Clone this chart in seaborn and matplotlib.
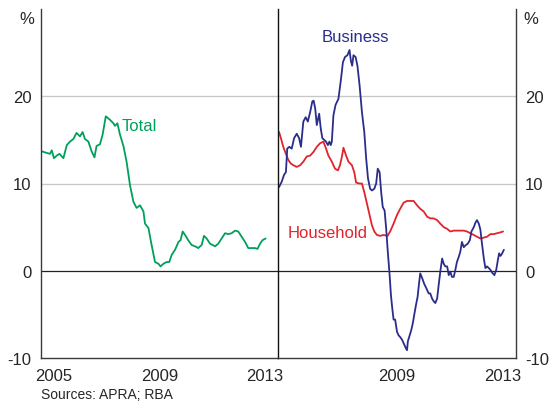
import pandas as pd
import matplotlib.pyplot as plt
import seaborn as sns

# data (decimal years)
total_year = [2005.02, 2005.22, 2005.34, 2005.41, 2005.49, 2005.60, 2005.70, 2005.85, 2005.98, 2006.10,
              2006.23, 2006.35, 2006.48, 2006.58, 2006.67, 2006.80, 2006.92, 2007.03, 2007.11, 2007.24,
              2007.34, 2007.46, 2007.62, 2007.75, 2007.81, 2007.90, 2008.00, 2008.13, 2008.25, 2008.38,
              2008.51, 2008.63, 2008.76, 2008.89, 2008.95, 2009.08, 2009.20, 2009.33, 2009.46, 2009.54,
              2009.65, 2009.77, 2009.87, 2009.96, 2010.09, 2010.22, 2010.30, 2010.38, 2010.47, 2010.59,
              2010.72, 2010.85, 2010.97, 2011.10, 2011.19, 2011.29, 2011.42, 2011.52, 2011.61, 2011.73,
              2011.86, 2011.99, 2012.11, 2012.24, 2012.37, 2012.49, 2012.62, 2012.75, 2012.87, 2013.00,
              2013.13, 2013.22, 2013.32, 2013.41, 2013.53]
total_val = [13.7, 13.5, 13.4, 13.8, 12.9, 13.2, 13.4, 12.9, 14.4, 14.8,
             15.1, 15.8, 15.4, 15.9, 15.1, 14.8, 13.7, 13.0, 14.3, 14.5,
             15.6, 17.7, 17.3, 16.9, 16.6, 16.9, 15.6, 14.3, 12.5, 9.8,
             7.9, 7.2, 7.5, 6.8, 5.4, 4.9, 2.95, 1.0, 0.8, 0.5,
             0.8, 1.0, 1.0, 1.8, 2.4, 3.3, 3.5, 4.5, 4.1, 3.5,
             2.95, 2.8, 2.6, 2.95, 4.0, 3.7, 3.1, 2.95, 2.8, 3.1,
             3.7, 4.3, 4.2, 4.3, 4.6, 4.5, 3.9, 3.3, 2.6, 2.6,
             2.6, 2.5, 3.1, 3.5, 3.7]

business_year = [2005.04, 2005.14, 2005.23, 2005.30, 2005.35, 2005.43, 2005.52, 2005.61, 2005.71, 2005.80,
                 2005.87, 2005.96, 2006.05, 2006.13, 2006.22, 2006.30, 2006.35, 2006.41, 2006.47, 2006.56,
                 2006.62, 2006.68, 2006.75, 2006.82, 2006.89, 2006.95, 2007.00, 2007.04, 2007.10, 2007.18,
                 2007.29, 2007.38, 2007.46, 2007.54, 2007.63, 2007.71, 2007.76, 2007.81, 2007.86, 2007.94,
                 2008.01, 2008.09, 2008.18, 2008.27, 2008.34, 2008.41, 2008.49, 2008.56, 2008.65, 2008.72,
                 2008.78, 2008.85, 2008.91, 2008.97, 2009.04, 2009.10, 2009.16, 2009.23, 2009.28, 2009.33,
                 2009.38, 2009.44, 2009.51, 2009.57, 2009.63, 2009.70, 2009.76, 2009.85, 2009.89, 2009.92,
                 2009.99, 2010.05, 2010.11, 2010.16, 2010.23, 2010.29, 2010.35, 2010.39, 2010.47, 2010.54,
                 2010.62, 2010.71, 2010.77, 2010.84, 2010.90, 2010.96, 2011.03, 2011.09, 2011.15, 2011.22,
                 2011.28, 2011.34, 2011.41, 2011.47, 2011.53, 2011.59, 2011.66, 2011.72, 2011.78, 2011.85,
                 2011.91, 2011.97, 2012.04, 2012.10, 2012.19, 2012.27, 2012.33, 2012.42, 2012.48, 2012.54,
                 2012.61, 2012.67, 2012.73, 2012.80, 2012.86, 2012.92, 2012.99, 2013.05, 2013.11, 2013.20,
                 2013.27, 2013.33, 2013.38, 2013.43, 2013.48, 2013.56]
business_val = [9.6, 10.2, 11.0, 11.3, 14.0, 14.2, 14.0, 15.2, 15.7, 15.2,
                14.2, 17.1, 17.6, 17.1, 18.2, 19.4, 19.5, 18.6, 16.7, 18.0,
                16.3, 15.2, 15.0, 14.8, 14.4, 14.8, 14.4, 14.8, 17.8, 19.0,
                19.7, 21.8, 23.9, 24.5, 24.7, 25.3, 24.1, 23.5, 24.7, 24.5,
                23.5, 21.3, 18.2, 15.9, 12.9, 10.6, 9.4, 9.2, 9.4, 10.0,
                11.7, 11.3, 9.0, 7.3, 6.9, 4.8, 2.2, -0.5, -2.8, -4.3,
                -5.6, -5.6, -7.0, -7.4, -7.6, -7.9, -8.3, -8.9, -9.1, -8.1,
                -7.4, -6.8, -6.0, -5.1, -3.9, -3.0, -1.3, -0.3, -0.9, -1.5,
                -2.0, -2.6, -2.6, -3.2, -3.5, -3.7, -3.2, -1.6, -0.1, 1.4,
                0.8, 0.5, 0.5, -0.5, -0.1, -0.7, -0.7, 0.1, 1.0, 1.6,
                2.2, 3.3, 2.7, 2.9, 3.1, 3.5, 4.5, 5.0, 5.5, 5.8,
                5.4, 4.7, 3.1, 1.4, 0.3, 0.5, 0.3, 0.1, -0.2, -0.5,
                0.1, 1.2, 2.0, 1.7, 1.9, 2.4]

household_year = [2005.04, 2005.11, 2005.20, 2005.30, 2005.39, 2005.48, 2005.58, 2005.71, 2005.84, 2005.96,
                  2006.09, 2006.22, 2006.34, 2006.47, 2006.59, 2006.72, 2006.82, 2006.91, 2007.04, 2007.16,
                  2007.27, 2007.35, 2007.43, 2007.48, 2007.58, 2007.67, 2007.80, 2007.89, 2007.96, 2008.09,
                  2008.18, 2008.27, 2008.37, 2008.47, 2008.56, 2008.65, 2008.75, 2008.87, 2009.00, 2009.15,
                  2009.25, 2009.38, 2009.51, 2009.63, 2009.76, 2009.89, 2010.01, 2010.14, 2010.27, 2010.39,
                  2010.52, 2010.65, 2010.77, 2010.90, 2011.03, 2011.15, 2011.28, 2011.41, 2011.53, 2011.66,
                  2011.78, 2011.91, 2012.04, 2012.16, 2012.29, 2012.42, 2012.54, 2012.67, 2012.80, 2012.92,
                  2013.05, 2013.18, 2013.30, 2013.43, 2013.53]
household_val = [15.9, 15.2, 14.2, 13.4, 12.7, 12.3, 12.1, 11.9, 12.1, 12.5,
                 13.1, 13.2, 13.6, 14.2, 14.6, 14.8, 14.0, 13.2, 12.5, 11.7,
                 11.5, 12.1, 13.2, 14.1, 13.2, 12.5, 12.1, 11.3, 10.1, 10.0,
                 10.0, 9.0, 7.7, 6.4, 5.2, 4.5, 4.1, 4.0, 4.1, 4.0,
                 4.5, 5.4, 6.4, 7.1, 7.8, 8.0, 8.0, 8.0, 7.5, 7.1,
                 6.8, 6.2, 6.0, 6.0, 5.8, 5.4, 5.0, 4.8, 4.5, 4.6,
                 4.6, 4.6, 4.6, 4.5, 4.3, 4.1, 3.9, 3.7, 3.8, 3.9,
                 4.2, 4.2, 4.3, 4.4, 4.5]

y_ticks = [-10, 0, 10, 20]
left_year_labels = ["2005", "2009", "2013"]
right_year_labels = ["2009", "2013"]

green = "#00a05a"
navy = "#2a2d8a"
red = "#e2232b"
axis_col = "#3a3a3a"

sns.set_style("white")
plt.rcParams["font.family"] = ["Liberation Sans", "DejaVu Sans"]
plt.rcParams["axes.unicode_minus"] = False

total = pd.DataFrame({"year": total_year, "val": total_val})
business = pd.DataFrame({"year": business_year, "val": business_val})
household = pd.DataFrame({"year": household_year, "val": household_val})

fig = plt.figure(figsize=(5.51, 4.02), dpi=100)
ax1 = fig.add_axes([41 / 551, 43 / 402, 237 / 551, 349 / 402])
ax2 = fig.add_axes([278 / 551, 43 / 402, 237.5 / 551, 349 / 402])

sns.lineplot(data=total, x="year", y="val", ax=ax1, color=green, lw=1.3)
sns.lineplot(data=household, x="year", y="val", ax=ax2, color=red, lw=1.3)
sns.lineplot(data=business, x="year", y="val", ax=ax2, color=navy, lw=1.3)

for ax, labs, pos in ((ax1, left_year_labels, [2005.5, 2009.5, 2013.5]),
                      (ax2, right_year_labels, [2009.5, 2013.5])):
    ax.set_xlim(2005, 2014)
    ax.set_ylim(-10, 30)
    for g in (10, 20):
        ax.axhline(g, color="#c8c8c8", lw=1, zorder=0)
    ax.axhline(0, color="#222222", lw=0.9, zorder=1)
    ax.set_xlabel("")
    ax.set_ylabel("")
    ax.spines["top"].set_visible(False)
    for s in ("left", "right", "bottom"):
        ax.spines[s].set_color(axis_col)
        ax.spines[s].set_linewidth(1.0)
    ax.set_xticks(range(2005, 2015))
    ax.set_xticklabels([])
    ax.set_xticks(pos, minor=True)
    ax.set_xticklabels(labs, minor=True, fontsize=12)
    ax.tick_params(axis="x", which="major", direction="in", length=5, width=1, color=axis_col)
    ax.tick_params(axis="x", which="minor", length=0, pad=7)
    ax.set_yticks(y_ticks)

# divider between the panels
ax1.spines["right"].set_visible(False)
ax2.spines["left"].set_color("#111111")
ax1.tick_params(axis="y", length=0, labelsize=12, pad=7, left=False, labelleft=True)
ax2.tick_params(axis="y", length=0, labelsize=12, pad=7, left=False, labelleft=False,
                right=False, labelright=True)

fig.text(27 / 551, 1 - 20 / 402, "%", ha="center", va="center", fontsize=12)
fig.text(531 / 551, 1 - 20 / 402, "%", ha="center", va="center", fontsize=12)

ax1.text(2008.08, 16.6, "Total", color=green, fontsize=12, va="center", ha="left")
ax2.text(2007.92, 26.8, "Business", color=navy, fontsize=12, va="center", ha="center")
ax2.text(2005.35, 4.4, "Household", color=red, fontsize=12, va="center", ha="left")

fig.text(41 / 551, 1 - 395 / 402, "Sources: APRA; RBA", fontsize=10, ha="left", va="center")

fig.savefig("out.png", dpi=100)
